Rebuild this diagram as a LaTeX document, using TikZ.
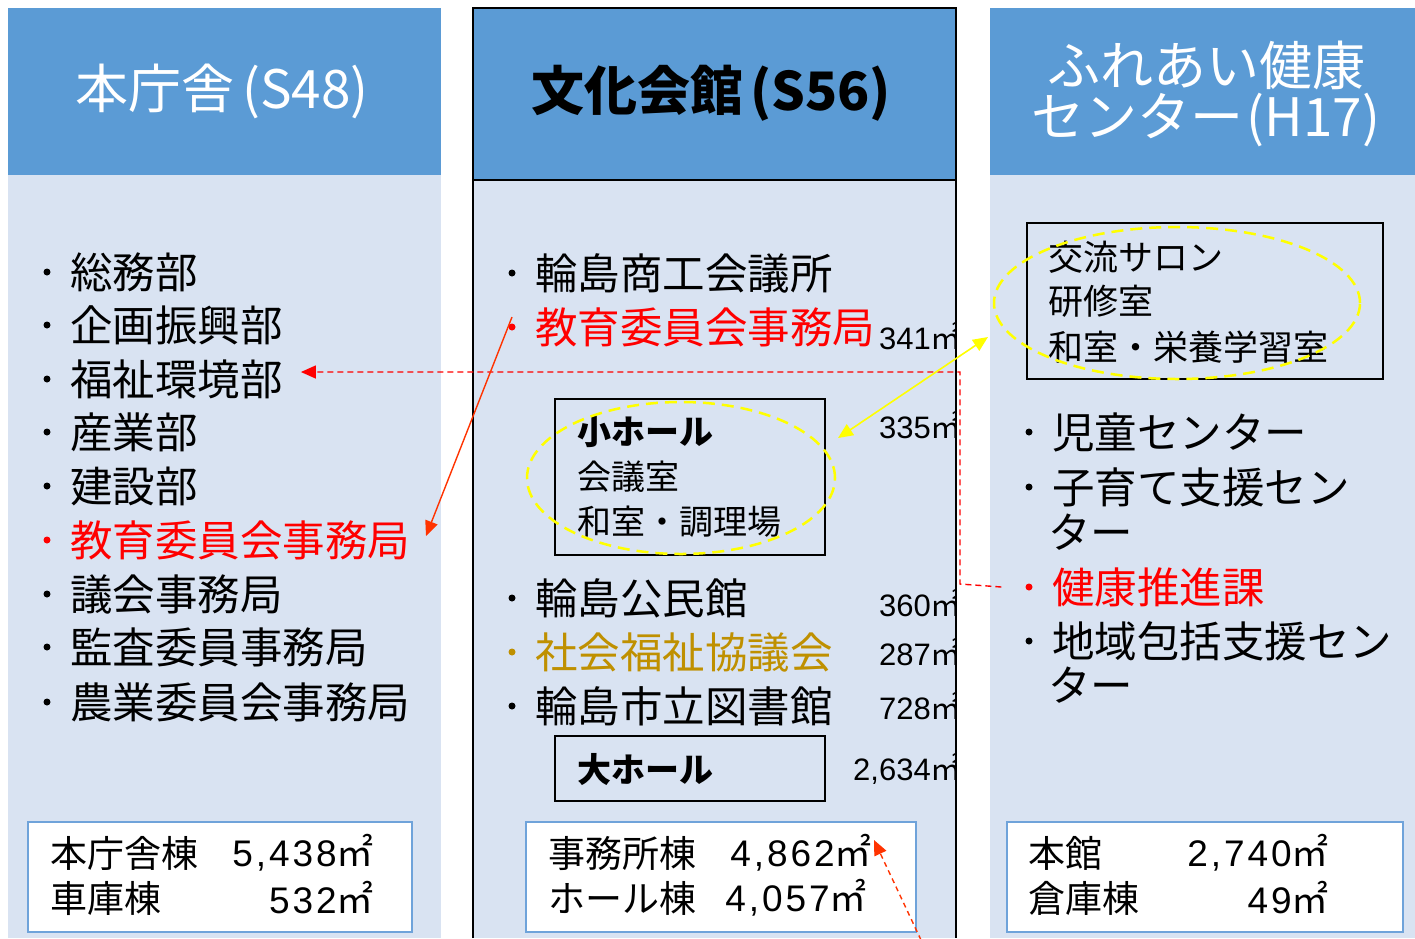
\documentclass[tikz,border=0pt]{standalone}
\usepackage{fontspec}
\setmainfont{Noto Sans CJK JP}
\newfontfamily\numf{Liberation Sans}
\newfontfamily\numw[LetterSpace=8]{Liberation Sans}
\usetikzlibrary{arrows.meta,shapes.geometric}
\definecolor{hdr}{HTML}{5B9BD5}
\definecolor{bodybg}{HTML}{D9E3F2}
\definecolor{boxblue}{HTML}{6FA3DA}
\definecolor{redtxt}{HTML}{FF0000}
\definecolor{goldtxt}{HTML}{BF9000}
\definecolor{arrred}{HTML}{FF3300}
\definecolor{yel}{HTML}{FFFF00}
\newcommand{\sqm}[1]{{\numf #1}㎡}
\newcommand{\sqmw}[1]{{\numw #1}㎡}
\tikzset{
  listtxt/.style={anchor=west, inner sep=0pt, font=\fontsize{42.5}{49}\selectfont},
  boxtxt/.style={anchor=west, inner sep=0pt, font=\fontsize{34}{40}\selectfont},
  sumtxt/.style={anchor=west, inner sep=0pt, font=\fontsize{37}{42}\selectfont},
  sumnum/.style={anchor=east, inner sep=0pt, font=\fontsize{37}{42}\selectfont},
  areatxt/.style={anchor=east, inner sep=0pt, font=\fontsize{31}{34}\selectfont},
  bul/.style={circle, fill, inner sep=0pt, minimum size=7pt},
  hdrtxt/.style={inner sep=0pt, font=\fontsize{53}{58}\selectfont},
  framebox/.style={draw=black, line width=1.8pt, fill=none},
  sumbox/.style={draw=boxblue, line width=2.5pt, fill=white},
  yelring/.style={draw=yel, line width=2.5pt, dash pattern=on 12pt off 7pt},
  redlink/.style={draw=redtxt, line width=1.4pt, dash pattern=on 6pt off 4pt},
  tip/.style={-{Triangle[length=15pt,width=13pt]}}
}
\begin{document}
\begin{tikzpicture}[x=1pt,y=-1pt]
\useasboundingbox (0,0) rectangle (1415,938);
\fill[white] (0,0) rectangle (1415,938);
% ---------- columns ----------
\fill[bodybg] (8,175) rectangle (441,938);
\fill[hdr] (8,8) rectangle (441,175);
\fill[bodybg] (473,180) rectangle (956,938);
\fill[hdr] (473,8) rectangle (956,180);
\draw[black, line width=1.6pt] (473,180) -- (956,180);
\draw[black, line width=2.8pt] (473,938) -- (473,8) -- (956,8) -- (956,938);
\fill[bodybg] (990,175) rectangle (1415,938);
\fill[hdr] (990,8) rectangle (1415,175);
% ---------- headers ----------
\node[hdrtxt, text=white] (h1) at (222,91) {本庁舎\hspace{8pt}(S48)};
\node[hdrtxt, font=\fontsize{53}{60}\selectfont\bfseries, text=black] (h2) at (711,93) {文化会館\hspace{7pt}(S56)};
\node[hdrtxt, text=white] (h3a) at (1206,65) {ふれあい健康};
\node[hdrtxt, text=white] (h3b) at (1206,120) {センター\hspace{3pt}(H17)};
% ---------- left list ----------
\node[bul] (lb1) at (47,272) {}; \node[listtxt] (l1) at (70,272) {総務部};
\node[bul] (lb2) at (47,325) {}; \node[listtxt] (l2) at (70,325) {企画振興部};
\node[bul] (lb3) at (47,379) {}; \node[listtxt] (l3) at (70,379) {福祉環境部};
\node[bul] (lb4) at (47,432) {}; \node[listtxt] (l4) at (70,432) {産業部};
\node[bul] (lb5) at (47,486) {}; \node[listtxt] (l5) at (70,486) {建設部};
\node[bul, fill=redtxt] (lb6) at (47,540) {}; \node[listtxt, text=redtxt] (l6) at (70,540) {教育委員会事務局};
\node[bul] (lb7) at (47,594) {}; \node[listtxt] (l7) at (70,594) {議会事務局};
\node[bul] (lb8) at (47,647) {}; \node[listtxt] (l8) at (70,647) {監査委員事務局};
\node[bul] (lb9) at (47,702) {}; \node[listtxt] (l9) at (70,702) {農業委員会事務局};
% left summary
\draw[sumbox] (28,822) rectangle (412,932);
\node[sumtxt] (ls1) at (50,853) {本庁舎棟};
\node[sumnum] (ln1) at (374,853) {\sqmw{5,438}};
\node[sumtxt] (ls2) at (50,898) {車庫棟};
\node[sumnum] (ln2) at (374,898) {\sqmw{532}};
% ---------- middle list ----------
\node[bul] (mb1) at (512,273) {}; \node[listtxt] (m1) at (535,273) {輪島商工会議所};
\node[bul, fill=redtxt] (mb2) at (512,327) {}; \node[listtxt, text=redtxt] (m2) at (535,327) {教育委員会事務局};
\node[bul] (mb3) at (512,598) {}; \node[listtxt] (m3) at (535,598) {輪島公民館};
\node[bul, fill=goldtxt] (mb4) at (512,652) {}; \node[listtxt, text=goldtxt] (m4) at (535,652) {社会福祉協議会};
\node[bul] (mb5) at (512,706) {}; \node[listtxt] (m5) at (535,706) {輪島市立図書館};
% small hall box
\draw[framebox] (555,399) rectangle (825,555);
\node[boxtxt, font=\fontsize{34}{40}\selectfont\bfseries] (sh1) at (577,432) {小ホール};
\node[boxtxt] (sh2) at (577,477) {会議室};
\node[boxtxt] (sh3) at (577,522) {和室・調理場};
\node[ellipse, yelring, minimum width=308pt, minimum height=152pt, inner sep=0pt] (e1) at (681,478) {};
% large hall box
\draw[framebox] (555,736) rectangle (825,801);
\node[boxtxt, font=\fontsize{34}{40}\selectfont\bfseries] (bh) at (577,769) {大ホール};
% areas (clipped by column edge)
\begin{scope}
\clip (473,180) rectangle (955,938);
\node[areatxt] (a1) at (962,336) {\sqm{341}};
\node[areatxt] (a2) at (962,425) {\sqm{335}};
\node[areatxt] (a3) at (962,603) {\sqm{360}};
\node[areatxt] (a4) at (962,652) {\sqm{287}};
\node[areatxt] (a5) at (962,706) {\sqm{728}};
\node[areatxt] (a6) at (962,769) {\sqm{2,634}};
\end{scope}
% middle summary
\draw[sumbox] (526,822) rectangle (916,932);
\node[sumtxt] (ms1) at (548,853) {事務所棟};
\node[sumnum] (mn1) at (872,853) {\sqmw{4,862}};
\node[sumtxt] (ms2) at (548,898) {ホール棟};
\node[sumnum] (mn2) at (867,898) {\sqmw{4,057}};
% ---------- right column ----------
\draw[framebox] (1027,223) rectangle (1383,379);
\node[boxtxt, font=\fontsize{35}{40}\selectfont] (r1) at (1048,257) {交流サロン};
\node[boxtxt, font=\fontsize{35}{40}\selectfont] (r2) at (1048,301) {研修室};
\node[boxtxt, font=\fontsize{35}{40}\selectfont] (r3) at (1048,347) {和室・栄養学習室};
\node[ellipse, yelring, minimum width=366pt, minimum height=152pt, inner sep=0pt] (e2) at (1177,303) {};
\node[bul] (rb1) at (1029,432) {}; \node[listtxt] (rl1) at (1052,432) {児童センター};
\node[bul] (rb2) at (1029,487) {}; \node[listtxt] (rl2) at (1052,487) {子育て支援セン};
\node[listtxt] (rl2b) at (1048,532) {ター};
\node[bul, fill=redtxt] (rb3) at (1029,587) {}; \node[listtxt, text=redtxt] (rl3) at (1052,587) {健康推進課};
\node[bul] (rb4) at (1029,641) {}; \node[listtxt] (rl4) at (1052,641) {地域包括支援セン};
\node[listtxt] (rl4b) at (1048,685) {ター};
% right summary
\draw[sumbox] (1007,822) rectangle (1403,932);
\node[sumtxt] (rs1) at (1028,853) {本館};
\node[sumnum] (rn1) at (1329,853) {\sqmw{2,740}};
\node[sumtxt] (rs2) at (1028,898) {倉庫棟};
\node[sumnum] (rn2) at (1329,898) {\sqmw{49}};
% ---------- connectors ----------
\coordinate (kstart) at ([xshift=-24pt]rb3.west);
\coordinate (kbend1) at (960,584);
\coordinate (kbend2) at (960,372);
\coordinate (fend) at ([xshift=18pt]l3.east);
\draw[redlink, tip] (kstart) -- (kbend1) -- (kbend2) -- (kbend2 -| fend);
\coordinate (estart) at ([yshift=10pt]mb2.center);
\coordinate (eend) at (426,536);
\draw[arrred, line width=1.4pt, tip] (estart) -- (eend);
\coordinate (y1) at (988,337);
\coordinate (y2) at (838,438);
\draw[yel, line width=1.6pt, {Triangle[length=15pt,width=13pt]}-{Triangle[length=15pt,width=13pt]}] (y1) -- (y2);
\coordinate (dstart) at (921,940);
\coordinate (dend) at ([xshift=2pt,yshift=13pt]mn1.east);
\draw[arrred, line width=1.4pt, dash pattern=on 5pt off 4pt, tip] (dstart) -- (dend);
\end{tikzpicture}
\end{document}
